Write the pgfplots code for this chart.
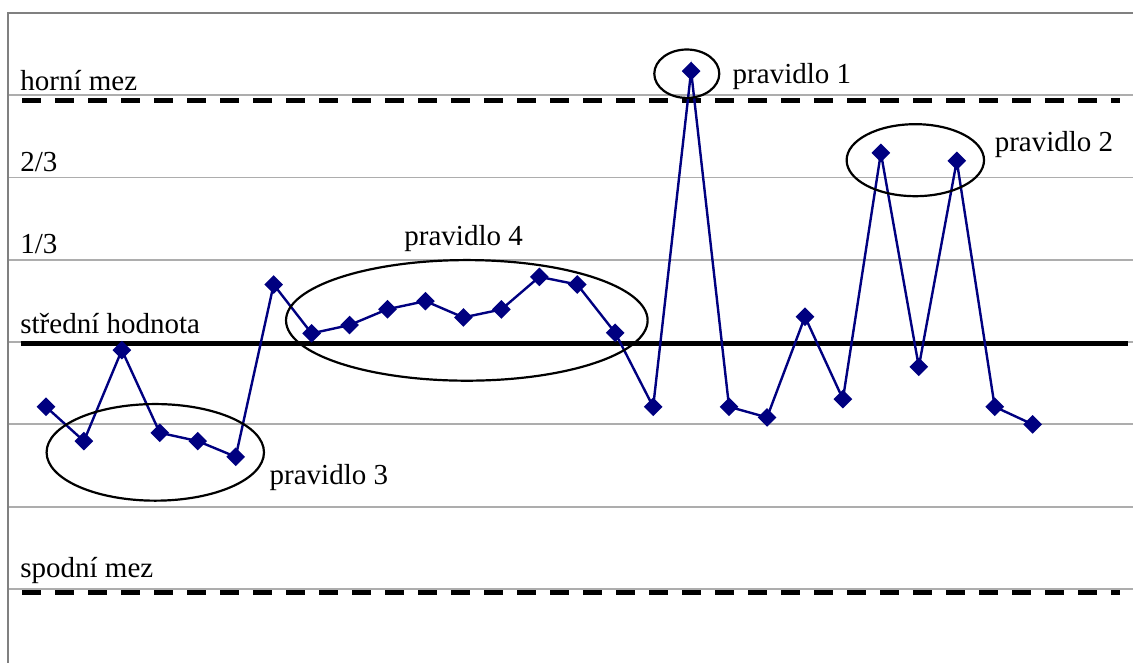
\documentclass[border=0pt]{standalone}
\usepackage{fontspec}
\setmainfont{Liberation Serif}
\usepackage{pgfplots}
\pgfplotsset{compat=1.18}
\definecolor{navy}{RGB}{0,0,128}
\tikzset{lbl/.style={font=\fontsize{14.5}{16}\selectfont, inner sep=0pt, anchor=base west}}
\begin{document}
\begin{tikzpicture}
\useasboundingbox (0,0) rectangle (566.5pt,331.5pt);
\begin{axis}[
  at={(4pt,0pt)}, anchor=south west,
  scale only axis, width=562.5pt, height=325pt,
  xmin=0, xmax=29.644, ymin=-3.90, ymax=4,
  axis line style={draw=none},
  xtick=\empty, ytick={-3,-2,-1,0,1,2,3}, yticklabels={},
  major tick length=0pt,
  ymajorgrids, grid style={color=black!32, line width=0.9pt},
  clip=false,
]
\draw[black!50, line width=1pt] (axis cs:0,-3.9) -- (axis cs:0,4) -- (axis cs:29.644,4);
\addplot[black, line width=2.5pt, dash pattern=on 9.5pt off 7pt] coordinates {(0.37,2.94) (29.3,2.94)};
\addplot[black, line width=2.5pt, dash pattern=on 9.5pt off 7pt] coordinates {(0.37,-3.038) (29.3,-3.038)};
\addplot[black, line width=2.3pt] coordinates {(0.33,-0.015) (29.5,-0.015)};
\addplot[navy, line width=1.2pt, mark=square*, mark size=2.7pt, mark options={rotate=45, solid, fill=navy}] coordinates {
(1,-0.786) (2,-1.203) (3,-0.097) (4,-1.102) (5,-1.203) (6,-1.394) (7,0.70) (8,0.106) (9,0.207)
(10,0.40) (11,0.498) (12,0.30) (13,0.397) (14,0.793) (15,0.70) (16,0.113) (17,-0.786) (18,3.293)
(19,-0.786) (20,-0.915) (21,0.308) (22,-0.693) (23,2.30) (24,-0.30) (25,2.203) (26,-0.786) (27,-1.0)
};
\draw[line width=1.1pt] (axis cs:17.886,3.262) ellipse [x radius=16.25pt, y radius=12.1pt];
\draw[line width=1.1pt] (axis cs:23.908,2.211) ellipse [x radius=34.35pt, y radius=18pt];
\draw[line width=1.1pt] (axis cs:3.881,-1.340) ellipse [x radius=54.35pt, y radius=24.15pt];
\draw[line width=1.1pt] (axis cs:12.09,0.264) ellipse [x radius=90.4pt, y radius=30.15pt];
\node[lbl] at (axis cs:0.316,3.062) {horní mez};
\node[lbl] at (axis cs:0.316,2.069) {2/3};
\node[lbl] at (axis cs:0.316,1.078) {1/3};
\node[lbl] at (axis cs:0.316,0.106) {střední hodnota};
\node[lbl] at (axis cs:0.316,-2.859) {spodní mez};
\node[lbl] at (axis cs:19.086,3.143) {pravidlo 1};
\node[lbl] at (axis cs:25.99,2.312) {pravidlo 2};
\node[lbl] at (axis cs:6.885,-1.725) {pravidlo 3};
\node[lbl] at (axis cs:10.435,1.179) {pravidlo 4};
\end{axis}
\end{tikzpicture}
\end{document}
